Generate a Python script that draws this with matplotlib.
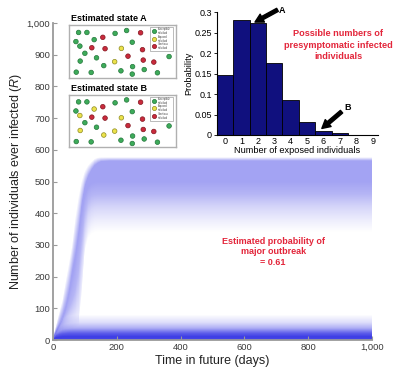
import numpy as np
import matplotlib.pyplot as plt
from matplotlib.patches import Rectangle

plt.rcParams['font.family'] = ['Liberation Sans', 'DejaVu Sans']
plt.rcParams['mathtext.fontset'] = 'custom'
plt.rcParams['mathtext.it'] = 'Liberation Sans:italic'
plt.rcParams['mathtext.rm'] = 'Liberation Sans'

# ---- main panel: fan of simulated epidemic trajectories ----
days = [0, 10, 20, 30, 40, 50, 60, 70, 80, 90, 100, 110, 120, 130, 140, 150, 175, 1000]

# minor outbreaks, bounding curves bottom -> top, shading density at each curve
minor_curves = [
    [1, 1, 1, 1, 1, 1, 1, 1, 1, 1, 1, 1, 1, 1, 1, 1, 1, 1],
    [3, 8, 9, 10, 10, 10, 10, 10, 10, 10, 10, 10, 10, 10, 10, 10, 10, 10],
    [5, 14, 18, 20, 21, 22, 22, 22, 22, 22, 22, 22, 22, 22, 22, 22, 22, 22],
    [7, 22, 29, 34, 36, 37, 38, 38, 38, 38, 38, 38, 38, 38, 38, 38, 38, 38],
    [9, 30, 40, 47, 51, 53, 54, 55, 55, 55, 55, 55, 55, 55, 55, 55, 55, 55],
    [12, 40, 55, 65, 72, 76, 78, 79, 80, 80, 80, 80, 80, 80, 80, 80, 80, 80],
]
minor_density = [0.8, 0.85, 0.7, 0.35, 0.15, 0.0]

# major outbreaks
major_curves = [
    [5, 10, 15, 20, 25, 30, 35, 40, 45, 140, 280, 320, 334, 340, 342, 342, 342, 342],
    [5, 15, 24, 32, 40, 48, 55, 62, 70, 170, 300, 350, 370, 378, 380, 380, 380, 380],
    [5, 18, 30, 42, 55, 68, 82, 100, 140, 240, 345, 395, 412, 418, 420, 420, 420, 420],
    [5, 22, 40, 58, 78, 100, 125, 160, 220, 320, 405, 442, 455, 459, 460, 460, 460, 460],
    [5, 24, 44, 65, 95, 140, 195, 250, 325, 400, 455, 482, 494, 498, 500, 500, 500, 500],
    [6, 28, 50, 75, 105, 150, 215, 265, 335, 425, 485, 515, 535, 550, 558, 563, 565, 565],
    [10, 50, 90, 130, 190, 245, 303, 390, 455, 505, 535, 552, 563, 572, 576, 577, 577, 577],
]
major_density = [0.0, 0.08, 0.18, 0.32, 0.40, 0.40, 0.0]

# ---- histogram inset ----
n_exposed = list(range(10))
prob = [0.146, 0.282, 0.273, 0.176, 0.085, 0.032, 0.0105, 0.004, 0.0012, 0.0005]
prob_ticks = [0, 0.05, 0.1, 0.15, 0.2, 0.25, 0.3]
prob_labels = ['0', '0.05', '0.1', '0.15', '0.2', '0.25', '0.3']

# ---- state pictures (positions inside box, y from top) ----
dot_x = [0.087, 0.165, 0.314, 0.429, 0.537, 0.668, 0.062, 0.233, 0.590, 0.099,
         0.211, 0.335, 0.488, 0.686, 0.146, 0.550, 0.255, 0.693, 0.792, 0.935,
         0.102, 0.425, 0.323, 0.065, 0.205, 0.484, 0.593, 0.590, 0.702, 0.826]
dot_y = [0.136, 0.136, 0.228, 0.154, 0.099, 0.142, 0.309, 0.272, 0.321, 0.395,
         0.426, 0.444, 0.438, 0.463, 0.531, 0.586, 0.617, 0.660, 0.698, 0.593,
         0.679, 0.691, 0.765, 0.889, 0.895, 0.864, 0.784, 0.926, 0.840, 0.901]
state_a = ['S', 'S', 'I', 'S', 'S', 'I', 'S', 'S', 'S', 'S',
           'I', 'I', 'E', 'I', 'S', 'I', 'S', 'I', 'I', 'S',
           'S', 'E', 'S', 'S', 'S', 'S', 'S', 'S', 'S', 'S']
state_b = ['S', 'S', 'I', 'S', 'S', 'I', 'S', 'E', 'S', 'E',
           'I', 'I', 'E', 'I', 'S', 'I', 'S', 'I', 'I', 'S',
           'E', 'E', 'E', 'S', 'S', 'S', 'S', 'S', 'S', 'S']
legend_names = ['Susceptible\nindividual', 'Exposed\nindividual', 'Infectious\nindividual']

BLUE = np.array([26, 26, 225]) / 255.0
RED_TXT = '#e3263b'
face = {'S': '#3dab5a', 'E': '#ece24a', 'I': '#c92a3c'}
edge = {'S': '#23763a', 'E': '#8c8a22', 'I': '#82161f'}

W, H = 397, 368
AX_W, AX_H = 319, 317
fig = plt.figure(figsize=(W / 100, H / 100), dpi=100)


def band_alpha(curves, dens, t_grid, v_grid):
    # opacity of one bundle of trajectories on a (value, time) grid
    cv = np.array([np.interp(t_grid, days, c) for c in curves])
    out = np.zeros((len(v_grid), len(t_grid)))
    for j in range(len(t_grid)):
        out[:, j] = np.interp(v_grid, cv[:, j], dens, left=0, right=0)
    return out


# one grid cell per output pixel
t_grid = (np.arange(AX_W) + 0.5) * 1000 / AX_W
v_grid = (np.arange(AX_H) + 0.5) * 1000 / AX_H
a_major = band_alpha(major_curves, major_density, t_grid, v_grid)
a_minor = band_alpha(minor_curves, minor_density, t_grid, v_grid)
alpha = 1 - (1 - a_major) * (1 - a_minor)
img = 1 - alpha[..., None] * (1 - BLUE[None, None, :])

ax = fig.add_axes([53 / W, 28 / H, AX_W / W, AX_H / H])
ax.imshow(img, origin='lower', extent=[0, 1000, 0, 1000], aspect='auto',
          interpolation='nearest')
ax.set_xlim(0, 1000)
ax.set_ylim(0, 1000)
xt = list(range(0, 1001, 200))
yt = list(range(0, 1001, 100))
ax.set_xticks(xt)
ax.set_xticklabels([f'{v:,}' for v in xt])
ax.set_yticks(yt)
ax.set_yticklabels([f'{v:,}' for v in yt])
for s in ['top', 'right']:
    ax.spines[s].set_visible(False)
for s in ['left', 'bottom']:
    ax.spines[s].set_color('#9a9a9a')
    ax.spines[s].set_linewidth(1.3)
ax.tick_params(direction='in', length=3, color='#9a9a9a', labelsize=6.8,
               labelcolor='#3a3a3a', pad=2)
ax.set_xlabel('Time in future (days)', fontsize=9, color='#222222', labelpad=2)
ax.set_ylabel('Number of individuals ever infected ($\\it{R}$)', fontsize=9,
              color='#222222', labelpad=2)
ax.text(690, 278, 'Estimated probability of\nmajor outbreak\n= 0.61', color=RED_TXT,
        fontsize=6.5, fontweight='bold', ha='center', va='center', linespacing=1.25)

# histogram inset
axh = fig.add_axes([216.7 / W, (H - 135) / H, 161 / W, 122.7 / H])
axh.patch.set_alpha(0)
axh.bar(n_exposed, prob, width=1.0, color='#10107e', edgecolor='black', lw=0.6)
axh.set_xlim(-0.5, 9.3)
axh.set_ylim(0, 0.3)
axh.set_xticks(n_exposed)
axh.set_yticks(prob_ticks)
axh.set_yticklabels(prob_labels)
for s in ['top', 'right']:
    axh.spines[s].set_visible(False)
axh.spines['left'].set_linewidth(0.8)
axh.spines['bottom'].set_linewidth(0.8)
axh.tick_params(labelsize=6.5, length=2, pad=1.5, width=0.6)
axh.tick_params(axis='x', length=0)
axh.set_xlabel('Number of exposed individuals', fontsize=6.6, labelpad=0)
axh.set_ylabel('Probability', fontsize=6.6, labelpad=1)
axh.text(6.9, 0.22, 'Possible numbers of\npresymptomatic infected\nindividuals', color=RED_TXT,
         fontsize=6.6, fontweight='bold', ha='center', va='center', linespacing=1.3)
arrow = dict(arrowstyle='simple,head_width=0.65,head_length=0.6,tail_width=0.25',
             color='black', mutation_scale=10, shrinkA=0, shrinkB=0)
axh.annotate('', xy=(1.83, 0.276), xytext=(3.2, 0.306), arrowprops=arrow,
             annotation_clip=False)
axh.annotate('', xy=(5.9, 0.016), xytext=(7.1, 0.057), arrowprops=arrow,
             annotation_clip=False)
axh.text(3.5, 0.305, 'A', fontsize=6.5, fontweight='bold', ha='center', va='center')
axh.text(7.45, 0.068, 'B', fontsize=6.5, fontweight='bold', ha='center', va='center')

# state pictures
for title, top, states in [('Estimated state A', 25.3, state_a),
                           ('Estimated state B', 94.7, state_b)]:
    axs = fig.add_axes([69.3 / W, (H - top - 52.7) / H, 106.7 / W, 52.7 / H])
    axs.set_xlim(0, 1)
    axs.set_ylim(1, 0)
    axs.set_xticks([])
    axs.set_yticks([])
    for s in axs.spines.values():
        s.set_color('#b0b0b0')
        s.set_linewidth(1.0)
    axs.scatter(dot_x, dot_y, s=11, c=[face[k] for k in states],
                edgecolors=[edge[k] for k in states], linewidths=0.5, zorder=3)
    axs.add_patch(Rectangle((0.76, 0.04), 0.21, 0.45, facecolor='white',
                            edgecolor='#a0a0a0', lw=0.5, zorder=2))
    for yy, key, name in zip([0.117, 0.253, 0.401], ['S', 'E', 'I'], legend_names):
        axs.scatter([0.795], [yy], s=9, c=face[key], edgecolors=edge[key],
                    linewidths=0.5, zorder=3)
        axs.text(0.83, yy, name, fontsize=1.8, va='center', ha='left', color='#444444',
                 linespacing=1.0, zorder=3)
    axs.text(0.02, 1.04, title, transform=axs.transAxes, fontsize=6.5,
             fontweight='bold', ha='left', va='bottom')

fig.savefig('out.png', dpi=100)
